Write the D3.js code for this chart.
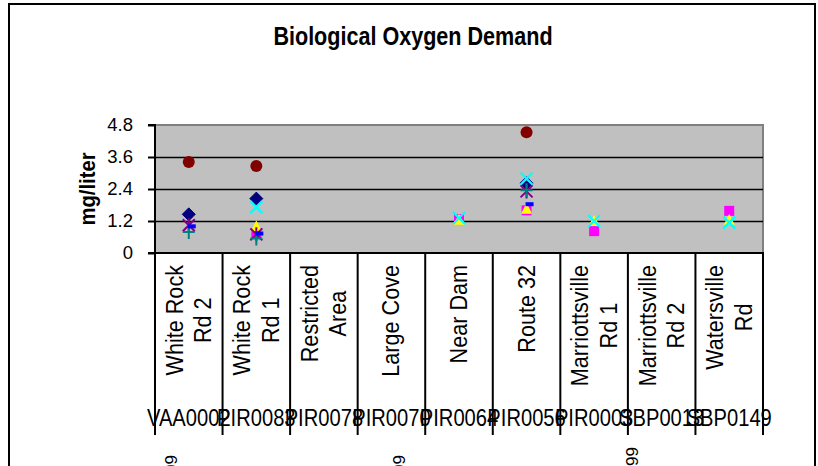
<!DOCTYPE html>
<html>
<head>
<meta charset="utf-8">
<script src="https://cdn.jsdelivr.net/npm/d3@7"></script>
<style>
  html, body { margin: 0; padding: 0; background: #ffffff; }
  svg { display: block; }
  text { font-family: "Liberation Sans", Arial, sans-serif; fill: #000; }
</style>
</head>
<body>
<svg id="chart" width="818" height="466"></svg>
<script>
// ---------------- data ----------------
const chartTitle = "Biological Oxygen Demand";
const yAxisTitle = "mg/liter";
const categories = ["White Rock Rd 2", "White Rock Rd 1", "Restricted Area", "Large Cove",
                    "Near Dam", "Route 32", "Marriottsville Rd 1", "Marriottsville Rd 2", "Watersville Rd"];
const categoryLines = [["White Rock", "Rd 2"], ["White Rock", "Rd 1"], ["Restricted", "Area"], ["Large Cove"],
                       ["Near Dam"], ["Route 32"], ["Marriottsville", "Rd 1"], ["Marriottsville", "Rd 2"], ["Watersville", "Rd"]];
const stationCodes = ["VAA0002", "PIR0083", "PIR0078", "PIR0070", "PIR0064", "PIR0056", "PIR0003", "SBP0013", "SBP0149"];
const outerLabels = ["1999", "1999", "1999"];
const yTicks = [0, 1.2, 2.4, 3.6, 4.8];

const seriesNavyDiamond   = [1.45, 2.04, null, null, null, 2.62, null, null, null];
const seriesMagentaSquare = [null, 0.74, null, null, 1.27, 1.60, 0.82, null, 1.58];
const seriesYellowTri     = [null, 1.00, null, null, 1.25, 1.66, 1.20, null, 1.25];
const seriesCyanX         = [null, 1.72, null, null, 1.31, 2.79, 1.20, null, 1.14];
const seriesPurpleStar    = [1.04, 0.70, null, null, null, 2.31, null, null, null];
const seriesDarkRedCircle = [3.41, 3.26, null, null, null, 4.53, null, null, null];
const seriesTealPlus      = [0.79, 0.54, null, null, null, 2.35, null, null, null];
const seriesBlueDash      = [1.00, 0.73, null, null, null, 1.83, null, null, null];

const series = [
  { values: seriesNavyDiamond,   color: "#000080", marker: "diamond" },
  { values: seriesMagentaSquare, color: "#FF00FF", marker: "square" },
  { values: seriesYellowTri,     color: "#FFFF00", marker: "triangle" },
  { values: seriesCyanX,         color: "#00FFFF", marker: "x" },
  { values: seriesPurpleStar,    color: "#800080", marker: "star" },
  { values: seriesDarkRedCircle, color: "#800000", marker: "circle" },
  { values: seriesTealPlus,      color: "#008080", marker: "plus" },
  { values: seriesBlueDash,      color: "#0000FF", marker: "dash" }
];

// ---------------- layout ----------------
const svg = d3.select("#chart");
const plot = { left: 155, right: 763, top: 125, bottom: 253 };

const x = d3.scaleBand().domain(categories).range([plot.left, plot.right]).padding(0);
const y = d3.scaleLinear().domain([0, 4.8]).range([plot.bottom, plot.top]);

// outer chart border
svg.append("rect").attr("x", 9).attr("y", 4).attr("width", 806).attr("height", 480)
  .attr("fill", "#fff").attr("stroke", "#000").attr("stroke-width", 2);

// title
const titleG = svg.append("g").attr("transform", "translate(413,45) scale(0.83,1)");
titleG.append("text").attr("text-anchor", "middle").attr("font-size", 26).attr("font-weight", "bold").text(chartTitle);

// plot area
svg.append("rect").attr("x", plot.left).attr("y", plot.top)
  .attr("width", plot.right - plot.left).attr("height", plot.bottom - plot.top)
  .attr("fill", "#C0C0C0").attr("stroke", "#808080").attr("stroke-width", 2);

// gridlines
svg.append("g").selectAll("line").data(yTicks.filter(d => d > 0 && d < 4.8)).join("line")
  .attr("x1", plot.left).attr("x2", plot.right)
  .attr("y1", d => Math.round(y(d)) + 0.5).attr("y2", d => Math.round(y(d)) + 0.5)
  .attr("stroke", "#000").attr("stroke-width", 1.5);

// y axis
const yAxis = d3.axisLeft(y).tickValues(yTicks).tickSize(7).tickPadding(15)
  .tickFormat(d => d === 0 ? "0" : d3.format(".1f")(d));
const yG = svg.append("g").attr("transform", `translate(${plot.left},0)`).call(yAxis);
yG.select(".domain").attr("stroke", "#000").attr("stroke-width", 2).attr("d", `M-7,${plot.top}H0V${plot.bottom}H-7`);
yG.selectAll(".tick line").attr("stroke", "#000").attr("stroke-width", 2);
yG.selectAll(".tick text").attr("font-size", 18.5).attr("font-family", "Liberation Sans, Arial, sans-serif").attr("fill", "#000");

// y axis title
const ytG = svg.append("g").attr("transform", `translate(95,${(plot.top + plot.bottom) / 2}) rotate(-90) scale(0.92,1)`);
ytG.append("text").attr("text-anchor", "middle").attr("font-size", 22).attr("font-weight", "bold").text(yAxisTitle);

// category axis: baseline and dividers
svg.append("line").attr("x1", plot.left - 1).attr("x2", plot.right + 1)
  .attr("y1", plot.bottom).attr("y2", plot.bottom).attr("stroke", "#000").attr("stroke-width", 2);
const bounds = categories.map(c => x(c)).concat([x(categories[categories.length - 1]) + x.bandwidth()]);
svg.append("g").selectAll("line").data(bounds).join("line")
  .attr("x1", d => d).attr("x2", d => d).attr("y1", plot.bottom).attr("y2", 435)
  .attr("stroke", "#000").attr("stroke-width", 2);

// category names (rotated, multi-line, block top aligned)
const nameK = 0.9, nameTop = 265;
categories.forEach((c, i) => {
  const cx = x(c) + x.bandwidth() / 2;
  const lines = categoryLines[i];
  const offsets = lines.length === 2 ? [-6, 22.5] : [8];
  const g = svg.append("g");
  const texts = lines.map((ln, j) => g.append("text").attr("font-size", 24).attr("text-anchor", "middle").text(ln));
  const lens = texts.map(t => t.node().getComputedTextLength() * nameK);
  const L = d3.max(lens);
  const cy = nameTop + L / 2;
  texts.forEach((t, j) => {
    t.attr("transform", `translate(${cx + offsets[j]},${cy}) rotate(-90) scale(${nameK},1)`);
  });
});

// station codes
svg.append("g").selectAll("text").data(categories).join("text")
  .attr("transform", (c) => `translate(${x(c) + x.bandwidth() / 2},426) scale(0.84,1)`)
  .attr("text-anchor", "middle").attr("font-size", 24)
  .text((c, i) => stationCodes[i]);

// outer (clipped) level labels
const outerPos = [[171, 455], [399, 455], [632, 447]];
outerLabels.forEach((t, i) => {
  svg.append("text").attr("font-size", 17).attr("text-anchor", "end")
    .attr("transform", `translate(${outerPos[i][0] + 6},${outerPos[i][1]}) rotate(-90)`)
    .text(t);
});

// markers
const pts = [];
series.forEach((s, si) => s.values.forEach((v, ci) => {
  if (v !== null) pts.push({ s, cx: x(categories[ci]) + x.bandwidth() / 2, cy: y(v) });
}));
const mG = svg.append("g");
pts.forEach(p => {
  const g = mG.append("g").attr("transform", `translate(${p.cx},${p.cy})`);
  const c = p.s.color;
  switch (p.s.marker) {
    case "diamond":
      g.append("path").attr("d", "M0,-6.5L6.5,0L0,6.5L-6.5,0Z").attr("fill", c).attr("stroke", c).attr("stroke-width", 1);
      break;
    case "square":
      g.append("rect").attr("x", -5).attr("y", -5).attr("width", 10).attr("height", 10).attr("fill", c);
      break;
    case "triangle":
      g.append("path").attr("d", "M0,-6L5.5,5L-5.5,5Z").attr("fill", c);
      break;
    case "x":
      g.append("path").attr("d", "M-6,-6L6,6M-6,6L6,-6").attr("stroke", c).attr("stroke-width", 2.2).attr("fill", "none");
      break;
    case "star":
      g.append("path").attr("d", "M-6,-6L6,6M-6,6L6,-6M0,-7L0,7").attr("stroke", c).attr("stroke-width", 2).attr("fill", "none");
      break;
    case "circle":
      g.append("circle").attr("r", 6).attr("fill", c);
      break;
    case "plus":
      g.append("path").attr("d", "M-6,0L6,0M0,-7L0,7").attr("stroke", c).attr("stroke-width", 2).attr("fill", "none");
      break;
    case "dash":
      g.append("rect").attr("x", -1).attr("y", -2).attr("width", 8).attr("height", 4).attr("fill", c);
      break;
  }
});
</script>
</body>
</html>
